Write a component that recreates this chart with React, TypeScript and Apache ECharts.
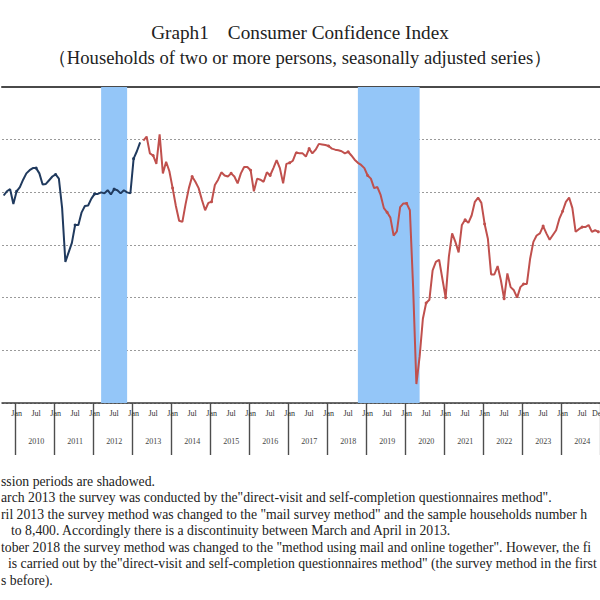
import React, { useEffect, useRef } from "react";
import * as echarts from "echarts";

// ---- Data ----
// Old survey method (direct-visit), Sep 2009 – Mar 2013
const oldMethod2009 = [39.7, 40.1, 40.3, 38.9]; // Sep–Dec
const oldMethod2010 = [40.1, 40.5, 41.2, 41.8, 42.1, 42.3, 42.3, 41.8, 40.75, 40.8, 41.15, 41.5];
const oldMethod2011 = [41.7, 41.3, 38.5, 33.4, 34.3, 35.2, 36.9, 36.9, 38.1, 38.7, 38.75, 39.4];
const oldMethod2012 = [39.85, 39.85, 40.0, 39.9, 40.2, 39.8, 40.3, 40.2, 39.9, 40.2, 40.0, 39.9];
const oldMethod2013 = [43.2, 43.9, 44.75]; // Jan–Mar

// New survey method (mail / mail+online), Apr 2013 – Dec 2024
const newMethod2013 = [44.9, 45.3, 43.7, 43.5, 42.7, 45.5, 41.8, 42.9, 42.0]; // Apr–Dec
const newMethod2014 = [40.4, 38.7, 37.3, 37.2, 38.9, 40.4, 41.5, 41.0, 40.4, 39.3, 38.3, 39.0];
const newMethod2015 = [39.1, 40.7, 41.2, 41.9, 41.6, 41.5, 41.8, 41.5, 40.85, 41.8, 42.4, 42.4];
const newMethod2016 = [42.1, 40.1, 41.3, 41.2, 41.0, 41.9, 41.6, 42.3, 43.05, 42.3, 40.85, 42.7];
const newMethod2017 = [42.8, 43.0, 43.8, 43.7, 43.7, 43.4, 44.15, 43.7, 44.05, 44.6, 44.55, 44.5];
const newMethod2018 = [44.4, 44.15, 44.05, 44.0, 43.9, 43.7, 43.85, 43.5, 43.1, 42.8, 42.6, 42.3];
const newMethod2019 = [41.6, 41.3, 40.4, 40.5, 39.75, 38.5, 38.1, 37.6, 35.9, 36.3, 38.6, 38.95];
const newMethod2020 = [38.95, 38.3, 31.0, 21.8, 24.4, 28.0, 29.5, 29.8, 32.6, 33.4, 33.6, 31.8];
const newMethod2021 = [30.0, 33.9, 36.1, 35.3, 34.3, 36.9, 37.4, 37.1, 37.8, 39.1, 39.5, 39.0];
const newMethod2022 = [37.0, 35.6, 32.2, 32.2, 33.0, 31.65, 29.9, 32.3, 31.0, 30.7, 30.0, 31.0];
const newMethod2023 = [31.3, 31.3, 33.7, 35.3, 35.9, 36.1, 36.8, 36.1, 35.5, 35.95, 36.4, 37.5];
const newMethod2024 = [38.2, 39.1, 39.5, 38.5, 36.25, 36.5, 36.7, 36.7, 36.9, 36.25, 36.4, 36.25];

const firstYear = 2009;
const firstMonth = 9;
const monthNames = ["Jan", "Feb", "Mar", "Apr", "May", "Jun", "Jul", "Aug", "Sep", "Oct", "Nov", "Dec"];
const tickMonthLabels = ["Jan", "Jul"];
const recessionPeriods = [
  ["2012-03", "2012-11"],
  ["2018-10", "2020-05"],
];

const titleLine1 = "Graph1\u3000Consumer Confidence Index";
const titleLine2 = "\uFF08Households of two or more persons, seasonally adjusted series\uFF09";
const noteLines = [
  "ssion periods are shadowed.",
  "arch 2013 the survey was conducted by the\"direct-visit and self-completion questionnaires method\".",
  "ril 2013 the survey method was changed to the \"mail survey method\" and the sample households number h",
  "to 8,400. Accordingly there is a discontinuity between March and April in 2013.",
  "tober 2018 the survey method was changed to the \"method using mail and online together\". However, the fi",
  "is carried out by the\"direct-visit and self-completion questionnaires method\" (the survey method in the first",
  "s before).",
];

const oldValues = [...oldMethod2009, ...oldMethod2010, ...oldMethod2011, ...oldMethod2012, ...oldMethod2013];
const newValues = [
  ...newMethod2013, ...newMethod2014, ...newMethod2015, ...newMethod2016, ...newMethod2017, ...newMethod2018,
  ...newMethod2019, ...newMethod2020, ...newMethod2021, ...newMethod2022, ...newMethod2023, ...newMethod2024,
];

const total = oldValues.length + newValues.length;
const months: string[] = [];
for (let i = 0; i < total; i++) {
  const m0 = firstMonth - 1 + i;
  const y = firstYear + Math.floor(m0 / 12);
  const m = (m0 % 12) + 1;
  months.push(`${y}-${String(m).padStart(2, "0")}`);
}
const oldData = months.map((_, i) => (i < oldValues.length ? oldValues[i] : null));
const newData = months.map((_, i) => (i >= oldValues.length ? newValues[i - oldValues.length] : null));
const yearStarts = months.filter((m) => m.endsWith("-01"));

const SERIF = '"Liberation Serif", "Times New Roman", serif';

function fitSize(text: string, width: number): number {
  const c = document.createElement("canvas").getContext("2d");
  if (!c) return 12;
  c.font = `100px ${SERIF}`;
  const w = c.measureText(text).width;
  return (100 * width) / w;
}

export default function App() {
  const ref = useRef<HTMLDivElement>(null);
  useEffect(() => {
    document.body.style.margin = "0";
    if (!ref.current) return;
    const chart = echarts.init(ref.current, undefined, { renderer: "svg" });

    const t1 = fitSize(titleLine1, 298);
    const t2 = fitSize(titleLine2, 504);
    const nf = fitSize(noteLines[1], 551);
    const noteY = [481, 497.5, 514, 530.5, 547, 563.5, 580];
    const noteX = [1, 1, 1, 11, 1, 8, 1];

    const monthOf = (v: string) => parseInt(v.slice(5, 7), 10);

    const textGraphics: any[] = [
      {
        type: "text",
        x: 300,
        y: 32,
        style: { text: titleLine1, fontSize: t1, fontFamily: SERIF, fill: "#222222", align: "center", verticalAlign: "middle" },
      },
      {
        type: "text",
        x: 300,
        y: 57,
        style: { text: titleLine2, fontSize: t2, fontFamily: SERIF, fill: "#222222", align: "center", verticalAlign: "middle" },
      },
      ...noteLines.map((t, i) => ({
        type: "text",
        x: noteX[i],
        y: noteY[i],
        style: { text: t, fontSize: nf, fontFamily: SERIF, fill: "#222222", align: "left", verticalAlign: "middle" },
      })),
    ];

    const option: any = {
      animation: false,
      backgroundColor: "#ffffff",
      grid: { left: 2, right: 0, top: 87, bottom: 197, containLabel: false, outerBoundsMode: "none" },
      xAxis: [
        {
          type: "category",
          data: months,
          boundaryGap: true,
          position: "bottom",
          axisLine: { show: true, lineStyle: { color: "#3a3a3a", width: 1.5 } },
          axisTick: {
            show: true,
            interval: (i: number) => months[i].endsWith("-01"),
            length: 52,
            lineStyle: { color: "#4d4d4d", width: 1.2 },
          },
          axisLabel: {
            interval: (i: number) => {
              const mn = monthNames[monthOf(months[i]) - 1];
              return tickMonthLabels.includes(mn) || i === months.length - 1;
            },
            formatter: (v: string) => monthNames[monthOf(v) - 1],
            fontSize: 8,
            fontFamily: SERIF,
            color: "#333333",
            margin: 6,
          },
          splitLine: { show: false },
        },
        {
          type: "category",
          data: months,
          boundaryGap: true,
          position: "bottom",
          axisLine: { show: false },
          axisTick: { show: false },
          axisLabel: {
            interval: (i: number) => monthOf(months[i]) === 7,
            formatter: (v: string) => v.slice(0, 4),
            fontSize: 8,
            fontFamily: SERIF,
            color: "#444444",
            margin: 34,
          },
          splitLine: { show: false },
        },
        {
          type: "category",
          data: months,
          boundaryGap: true,
          position: "top",
          axisLine: { show: true, lineStyle: { color: "#4a4a4a", width: 2 } },
          axisTick: { show: false },
          axisLabel: { show: false },
          splitLine: { show: false },
        },
      ],
      yAxis: {
        type: "value",
        min: 20,
        max: 50,
        interval: 5,
        axisLine: { show: false },
        axisTick: { show: false },
        axisLabel: { show: false },
        splitLine: { show: true, lineStyle: { color: "#9a9a9a", type: [2, 2], width: 1 } },
      },
      series: [
        {
          type: "line",
          name: "old method",
          data: oldData,
          xAxisIndex: 0,
          color: "#203a5e",
          symbol: "circle",
          symbolSize: 3,
          showSymbol: true,
          connectNulls: false,
          lineStyle: { width: 2, color: "#203a5e" },
          itemStyle: { color: "#203a5e" },
          z: 3,
          markArea: {
            silent: true,
            itemStyle: { color: "#94c6f8", opacity: 1 },
            data: recessionPeriods.map(([a, b]) => [{ xAxis: a }, { xAxis: b }]),
          },
        },
        {
          type: "line",
          name: "new method",
          data: newData,
          xAxisIndex: 0,
          color: "#c0504d",
          symbol: "circle",
          symbolSize: 3,
          showSymbol: true,
          connectNulls: false,
          lineStyle: { width: 2, color: "#c0504d" },
          itemStyle: { color: "#c0504d" },
          z: 4,
        },
      ],
    };
    chart.setOption(option);

    // Year separators through the category scale (same structure as verified working)
    const seps: any[] = [];
    try {
      const p0 = chart.convertToPixel({ xAxisIndex: 0, yAxisIndex: 0 } as any, [months[0], 20]) as any;
      const p1 = chart.convertToPixel({ xAxisIndex: 0, yAxisIndex: 0 } as any, [months[1], 20]) as any;
      const bw = p1[0] - p0[0];
      yearStarts.forEach((m) => {
        const p = chart.convertToPixel({ xAxisIndex: 0, yAxisIndex: 0 } as any, [m, 20]) as any;
        const x = Math.round(p[0] - bw / 2) + 0.5;
        seps.push({ type: "line", shape: { x1: x, y1: p[1], x2: x, y2: p[1] + 52 }, style: { stroke: "#4d4d4d", lineWidth: 1.2 } });
      });
    } catch (e) {
      // ignore
    }
    chart.setOption({ graphic: [...textGraphics, ...seps] });
    return () => chart.dispose();
  }, []);
  return <div ref={ref} style={{ position: "absolute", left: 0, top: 0, width: 600, height: 600 }} />;
}
